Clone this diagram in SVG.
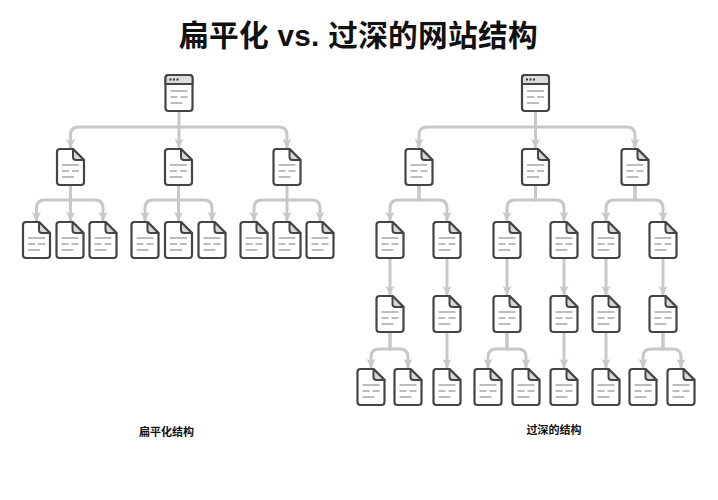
<svg xmlns="http://www.w3.org/2000/svg" width="718" height="500" viewBox="0 0 718 500">
<style>
.title{font-family:"Liberation Sans","Noto Sans CJK SC",sans-serif;font-size:29.700px;letter-spacing:.3px;font-weight:700;fill:#111;text-anchor:middle}
.cap{font-family:"Liberation Sans","Noto Sans CJK SC",sans-serif;font-size:11px;font-weight:700;fill:#111;text-anchor:middle}
.c{fill:none;stroke:#c8c8c8;stroke-width:3;marker-end:url(#a)}
.o{fill:#fff;stroke:#444;stroke-width:2.2;stroke-linejoin:round}
.l{fill:none;stroke:#a8a8a8;stroke-width:1.6}
</style>
<defs>
<marker id="a" markerUnits="userSpaceOnUse" markerWidth="12" markerHeight="10" refX="10" refY="5" orient="auto">
<path d="M1 0.5L10 5L1 9.5L3 5Z" fill="#c8c8c8"/>
</marker>
<symbol id="doc" width="27" height="36" viewBox="0 0 27 36" overflow="visible">
<path class="o" d="M3 0H16L27 11V33A3 3 0 0 1 24 36H3A3 3 0 0 1 0 33V3A3 3 0 0 1 3 0Z"/>
<path d="M16 0V8A3 3 0 0 0 19 11H27Z" fill="#d8d8d8" stroke="#444" stroke-width="2" stroke-linejoin="round"/>
<path class="l" d="M5 16H22M5 22H12M15 22H22M5 28H17"/>
</symbol>
<symbol id="win" width="27" height="36" viewBox="0 0 27 36" overflow="visible">
<rect class="o" width="27" height="36" rx="3"/>
<path d="M3 0H24A3 3 0 0 1 27 3V9H0V3A3 3 0 0 1 3 0Z" fill="#dcdcdc" stroke="#444" stroke-width="2"/>
<path d="M4 4.500h2M7.500 4.500h2M11 4.500h2" stroke="#333" stroke-width="2"/>
<path class="l" d="M5 16H22M5 22H12M15 22H22M5 28H17"/>
</symbol>
</defs>
<rect width="718" height="500" fill="#fff"/>
<text class="title" x="358.500" y="46">扁平化 vs. 过深的网站结构</text>
<text class="cap" x="166.500" y="436">扁平化结构</text>
<text class="cap" x="554" y="434">过深的结构</text>
<g id="connectors">
<path class="c" d="M179 111V148"/>
<path class="c" d="M179 127H78.500Q70.500 127 70.500 135V148"/>
<path class="c" d="M179 127H279Q287 127 287 135V148"/>
<path class="c" d="M70.500 185V221"/>
<path class="c" d="M70.500 200H44.500Q36.500 200 36.500 208V221"/>
<path class="c" d="M70.500 200H95Q103 200 103 208V221"/>
<path class="c" d="M178.500 185V221"/>
<path class="c" d="M178.500 200H153Q145 200 145 208V221"/>
<path class="c" d="M178.500 200H204Q212 200 212 208V221"/>
<path class="c" d="M287 185V221"/>
<path class="c" d="M287 200H262Q254 200 254 208V221"/>
<path class="c" d="M287 200H312Q320 200 320 208V221"/>
<path class="c" d="M535.500 111V148"/>
<path class="c" d="M535.500 127H427Q419 127 419 135V148"/>
<path class="c" d="M535.500 127H627Q635 127 635 135V148"/>
<path class="c" d="M419 185V200H398Q390 200 390 208V221"/>
<path class="c" d="M419 185V200H439Q447 200 447 208V221"/>
<path class="c" d="M535.500 185V200H515Q507 200 507 208V221"/>
<path class="c" d="M535.500 185V200H556Q564 200 564 208V221"/>
<path class="c" d="M635 185V200H614Q606 200 606 208V221"/>
<path class="c" d="M635 185V200H655Q663 200 663 208V221"/>
<path class="c" d="M390 258V295"/><path class="c" d="M447 258V295"/>
<path class="c" d="M507 258V295"/><path class="c" d="M564 258V295"/>
<path class="c" d="M606 258V295"/><path class="c" d="M663 258V295"/>
<path class="c" d="M390 332V349H379Q371 349 371 357V368"/>
<path class="c" d="M390 332V349H400Q408 349 408 357V368"/>
<path class="c" d="M447 332V368"/>
<path class="c" d="M507 332V349H496Q488 349 488 357V368"/>
<path class="c" d="M507 332V349H518Q526 349 526 357V368"/>
<path class="c" d="M564 332V368"/>
<path class="c" d="M606 332V368"/>
<path class="c" d="M663 332V349H651Q643 349 643 357V368"/>
<path class="c" d="M663 332V349H673Q681 349 681 357V368"/>
</g>
<g id="left-root"><use href="#win" x="165.500" y="75"/></g>
<g id="l1"><use href="#doc" x="57" y="149"/></g>
<g id="l2"><use href="#doc" x="165" y="149"/></g>
<g id="l3"><use href="#doc" x="273.500" y="149"/></g>
<g id="l1a"><use href="#doc" x="23" y="222"/></g>
<g id="l1b"><use href="#doc" x="56.500" y="222"/></g>
<g id="l1c"><use href="#doc" x="89.500" y="222"/></g>
<g id="l2a"><use href="#doc" x="131.500" y="222"/></g>
<g id="l2b"><use href="#doc" x="165" y="222"/></g>
<g id="l2c"><use href="#doc" x="198.500" y="222"/></g>
<g id="l3a"><use href="#doc" x="240.500" y="222"/></g>
<g id="l3b"><use href="#doc" x="273.500" y="222"/></g>
<g id="l3c"><use href="#doc" x="306.500" y="222"/></g>
<g id="right-root"><use href="#win" x="522" y="75"/></g>
<g id="r1"><use href="#doc" x="405.500" y="149"/></g>
<g id="r2"><use href="#doc" x="522" y="149"/></g>
<g id="r3"><use href="#doc" x="621.500" y="149"/></g>
<g id="r1a"><use href="#doc" x="376.500" y="222"/></g>
<g id="r1b"><use href="#doc" x="433.500" y="222"/></g>
<g id="r2a"><use href="#doc" x="493.500" y="222"/></g>
<g id="r2b"><use href="#doc" x="550.500" y="222"/></g>
<g id="r3a"><use href="#doc" x="592.500" y="222"/></g>
<g id="r3b"><use href="#doc" x="649.500" y="222"/></g>
<g id="r1a1"><use href="#doc" x="376.500" y="296"/></g>
<g id="r1b1"><use href="#doc" x="433.500" y="296"/></g>
<g id="r2a1"><use href="#doc" x="493.500" y="296"/></g>
<g id="r2b1"><use href="#doc" x="550.500" y="296"/></g>
<g id="r3a1"><use href="#doc" x="592.500" y="296"/></g>
<g id="r3b1"><use href="#doc" x="649.500" y="296"/></g>
<g id="r5a"><use href="#doc" x="357.500" y="369"/></g>
<g id="r5b"><use href="#doc" x="394.500" y="369"/></g>
<g id="r5c"><use href="#doc" x="433.500" y="369"/></g>
<g id="r5d"><use href="#doc" x="474.500" y="369"/></g>
<g id="r5e"><use href="#doc" x="512.500" y="369"/></g>
<g id="r5f"><use href="#doc" x="550.500" y="369"/></g>
<g id="r5g"><use href="#doc" x="592.500" y="369"/></g>
<g id="r5h"><use href="#doc" x="629.500" y="369"/></g>
<g id="r5i"><use href="#doc" x="667.500" y="369"/></g>
</svg>
